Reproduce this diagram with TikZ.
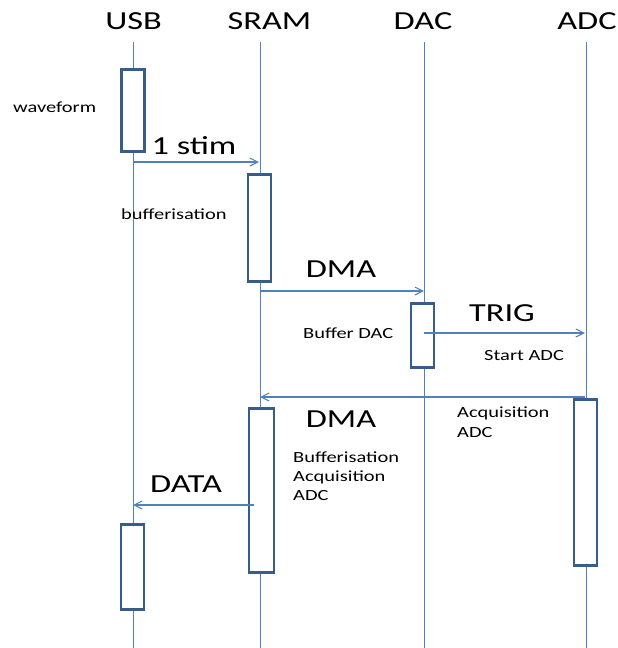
\documentclass[tikz,border=0pt]{standalone}
\usepackage{fontspec}
\setmainfont[FakeStretch=1.32]{Carlito}
\usetikzlibrary{arrows.meta, positioning}
\definecolor{lifeblue}{RGB}{79,129,189}
\definecolor{boxblue}{RGB}{56,93,138}

\begin{document}
\begin{tikzpicture}[
    x = 1pt, y = -1pt,
    head/.style  = {font=\fontsize{26}{30}\selectfont, inner sep=0pt, anchor=base},
    big/.style   = {font=\fontsize{26}{30}\selectfont, inner sep=0pt, anchor=base},
    note/.style  = {font=\fontsize{15.5}{19.5}\selectfont, inner sep=0pt,
                    align=left, anchor=base west},
    life/.style  = {lifeblue, line width=1pt},
    act/.style   = {rectangle, draw=boxblue, fill=white, line width=2.8pt,
                    inner sep=0pt, minimum width=23pt},
    msg/.style   = {-{Straight Barb[length=8pt, width=8pt]}, lifeblue, line width=1.1pt},
]
\useasboundingbox (0,0) rectangle (618,648);

% Lifeline heads
\node[head] (usb)  at (133.5,29) {USB};
\node[head] (sram) at (269.5,29) {SRAM};
\node[head] (dac)  at (423,29)   {DAC};
\node[head] (adc)  at (587,29)   {ADC};

% Lifelines
\foreach \n/\x in {usb/133, sram/260, dac/424, adc/586} {
  \coordinate (\n top) at (\x,42);
  \coordinate (\n end) at (\x,648);
  \draw[life] (\n top) -- (\n end);
}

% Activation boxes
\node[act, minimum height=82pt]  (usbact1)  at (133,110.5) {};
\node[act, minimum height=107pt] (sramact1) at (259.5,228) {};
\node[act, minimum height=64pt]  (dacact)   at (422.5,335.5) {};
\node[act, minimum height=166pt] (adcact)   at (585.5,482.5) {};
\node[act, minimum height=164pt, minimum width=25pt] (sramact2) at (261.5,490.5) {};
\node[act, minimum height=85pt]  (usbact2)  at (132.5,567) {};

% Message ends
\coordinate (stimA) at (133,162);  \coordinate (stimB) at (259,162);
\coordinate (dmaA)  at (260,291);  \coordinate (dmaB)  at (424,291);
\coordinate (trigA) at (424,333);  \coordinate (trigB) at (585,333);
\coordinate (retA)  at (585,397);  \coordinate (retB)  at (260,397);
\coordinate (dataA) at (254,505);  \coordinate (dataB) at (133,505);

% Messages
\draw[msg] (stimA) -- (stimB);
\draw[msg] (dmaA)  -- (dmaB);
\draw[msg] (trigA) -- (trigB);
\draw[msg] (retA)  -- (retB);
\draw[msg] (dataA) -- (dataB);

% Message labels
\node[big] (stimlbl)  at (194,154) {1 stim};
\node[big] (dmalbl)   at (341,277) {DMA};
\node[big] (triglbl)  at (502,321) {TRIG};
\node[big] (dmalbl2)  at (341,427) {DMA};
\node[big] (datalbl)  at (186,492) {DATA};

% Notes (multi-line ones sit on their last baseline)
\node[note] (wavenote) at (13,112)  {waveform};
\node[note] (bufnote)  at (121,219) {bufferisation};
\node[note] (dacnote)  at (303,338) {Buffer DAC};
\node[note] (startnote) at (484,360) {Start ADC};
\node[note] (acqnote)  at (457,437) {Acquisition\\ADC};
\node[note] (bufacqnote) at (293,500) {Bufferisation\\[-0.5pt]Acquisition\\[-0.5pt]ADC};

\end{tikzpicture}
\end{document}
